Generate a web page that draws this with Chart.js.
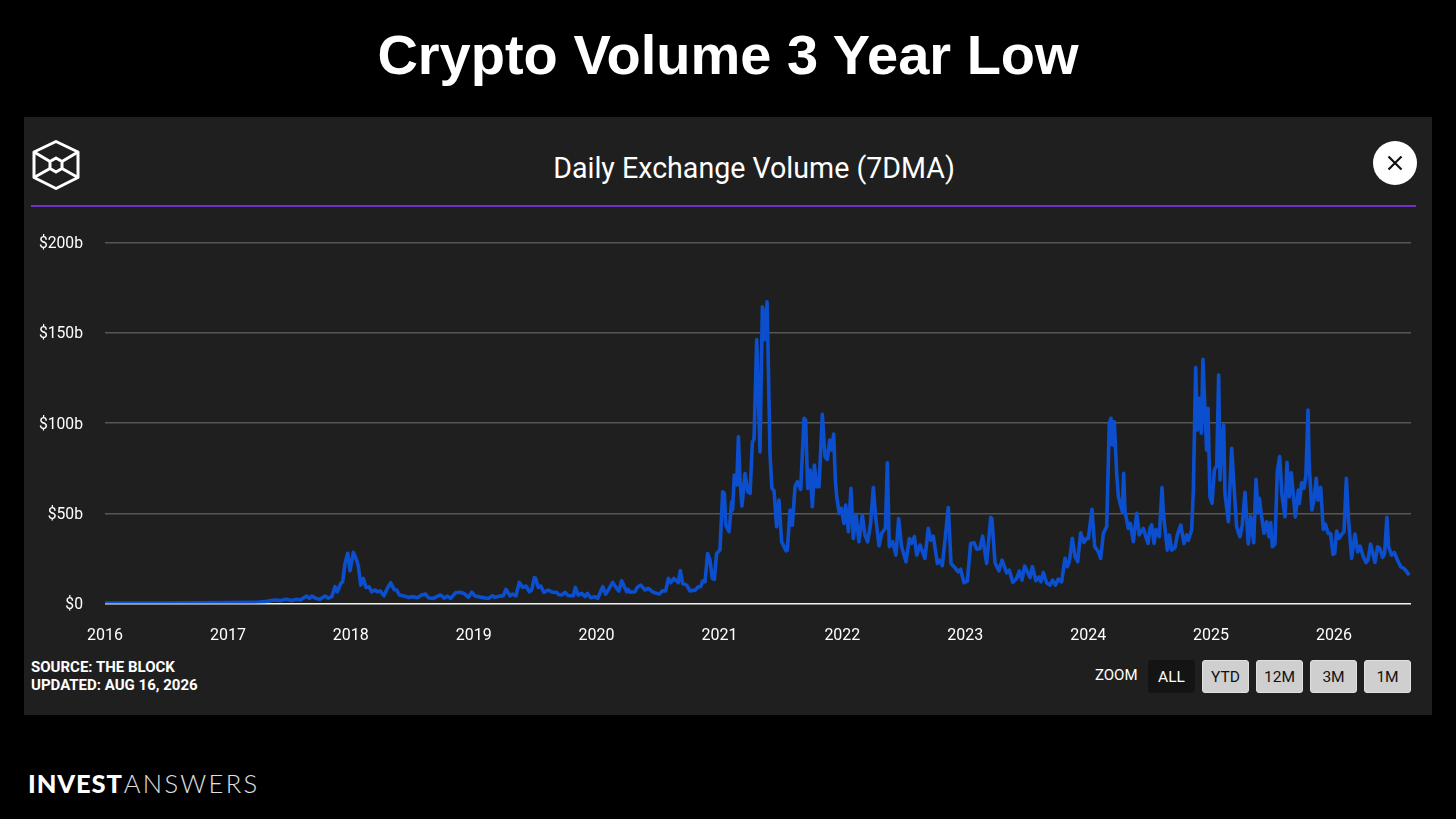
<!DOCTYPE html>
<html>
<head>
<meta charset="utf-8">
<title>Crypto Volume 3 Year Low</title>
<script src="https://cdn.jsdelivr.net/npm/chart.js@4"></script>
<style>
  html, body { margin: 0; padding: 0; background: #000; width: 1456px; height: 819px; overflow: hidden; }
  body { position: relative; font-family: Roboto, sans-serif; color: #fff; }
  .headline { position: absolute; left: 0; width: 1456px; top: 22px; text-align: center; font: bold 56px "Liberation Sans", sans-serif; line-height: 66px; }
  .panel { position: absolute; left: 24px; top: 117px; width: 1408px; height: 598px; background: #1f1f1f; }
  .logo { position: absolute; left: 31px; top: 139px; }
  .subtitle { position: absolute; left: 354px; width: 800px; top: 149.5px; text-align: center; font-size: 28.6px; line-height: 36px; }
  .rule { position: absolute; left: 31px; width: 1385px; top: 205px; height: 1.5px; background: #7430c4; }
  .close { position: absolute; left: 1373px; top: 141px; width: 44px; height: 44px; border-radius: 50%; background: #fff; }
  .chart-box { position: absolute; left: 24px; top: 210px; width: 1408px; height: 440px; }
  .source { position: absolute; left: 31px; top: 658px; font-size: 15px; font-weight: 700; line-height: 18px; }
  .zoom-label { position: absolute; left: 1095px; top: 667px; font-size: 15px; font-weight: 400; line-height: 17px; }
  .btn { position: absolute; top: 660px; width: 47px; height: 33px; box-sizing: border-box; border-radius: 3px; background: #cfcfcf; color: #111; border: 1px solid #e0e0e0; text-align: center; font-size: 15.5px; font-weight: 400; line-height: 32px; }
  .btn.on { background: #141414; color: #fff; border-color: #141414; }
  .brand { position: absolute; left: 28px; top: 767px; font: 300 25.5px/32px Lato, sans-serif; letter-spacing: 2.3px; color: #e0e0e0; }
  .brand b { font-weight: 900; color: #fff; letter-spacing: 0.9px; margin-right: 1px; }
</style>
</head>
<body>
<div class="headline">Crypto Volume 3 Year Low</div>
<div class="panel"></div>
<svg class="logo" width="50" height="52" viewBox="0 0 50 52" fill="none" stroke="#fff" stroke-width="3" stroke-linejoin="round">
  <path d="M25 2.5 L47 13 L47 38.5 L25 49.5 L3 38.5 L3 13 Z"/>
  <path d="M3 13 L19 22.5 M47 13 L31 22.5 M3 38.5 L19 29.5 M47 38.5 L31 29.5"/>
  <path d="M25 19 L31 22.5 L31 29.5 L25 33 L19 29.5 L19 22.5 Z"/>
</svg>
<div class="subtitle">Daily Exchange Volume (7DMA)</div>
<div class="rule"></div>
<div class="close">
  <svg width="44" height="44" viewBox="0 0 44 44" stroke="#111" stroke-width="2.2"><path d="M15.5 15.5 L28.5 28.5 M28.5 15.5 L15.5 28.5"/></svg>
</div>
<div class="chart-box"><canvas id="volumeChart"></canvas></div>
<div class="source">SOURCE: THE BLOCK<br>UPDATED: AUG 16, 2026</div>
<div class="zoom-label">ZOOM</div>
<div class="btn on" style="left:1148px">ALL</div>
<div class="btn" style="left:1202px">YTD</div>
<div class="btn" style="left:1256px">12M</div>
<div class="btn" style="left:1310px">3M</div>
<div class="btn" style="left:1364px">1M</div>
<div class="brand"><b>INVEST</b>ANSWERS</div>

<script>
// Values: decimal year and volume in $b, same order in both lists
const years = [
  2016, 2016.25, 2016.5, 2016.75, 2017, 2017.15, 2017.25, 2017.32, 2017.38, 2017.43,
  2017.47, 2017.52, 2017.56, 2017.587, 2017.641, 2017.663, 2017.682, 2017.717, 2017.75, 2017.79,
  2017.818, 2017.845, 2017.872, 2017.891, 2017.918, 2017.934, 2017.953, 2017.975, 2017.994, 2018.021,
  2018.048, 2018.062, 2018.081, 2018.102, 2018.124, 2018.148, 2018.17, 2018.197, 2018.216, 2018.238,
  2018.27, 2018.298, 2018.325, 2018.352, 2018.373, 2018.395, 2018.428, 2018.468, 2018.509, 2018.542,
  2018.577, 2018.609, 2018.631, 2018.672, 2018.699, 2018.731, 2018.759, 2018.786, 2018.813, 2018.853,
  2018.889, 2018.921, 2018.957, 2018.984, 2019.011, 2019.065, 2019.119, 2019.152, 2019.174, 2019.214,
  2019.241, 2019.263, 2019.296, 2019.315, 2019.344, 2019.371, 2019.399, 2019.426, 2019.453, 2019.472,
  2019.494, 2019.504, 2019.526, 2019.545, 2019.572, 2019.607, 2019.64, 2019.675, 2019.689, 2019.716,
  2019.743, 2019.77, 2019.811, 2019.827, 2019.851, 2019.879, 2019.906, 2019.925, 2019.952, 2019.987,
  2020.009, 2020.05, 2020.074, 2020.096, 2020.131, 2020.163, 2020.182, 2020.204, 2020.245, 2020.258,
  2020.272, 2020.313, 2020.331, 2020.359, 2020.394, 2020.421, 2020.462, 2020.51, 2020.535, 2020.562,
  2020.584, 2020.603, 2020.63, 2020.665, 2020.681, 2020.701, 2020.733, 2020.76, 2020.801, 2020.828,
  2020.847, 2020.863, 2020.882, 2020.904, 2020.923, 2020.942, 2020.958, 2020.977, 2021.004, 2021.026,
  2021.04, 2021.051, 2021.078, 2021.099, 2021.107, 2021.121, 2021.14, 2021.154, 2021.167, 2021.183,
  2021.208, 2021.23, 2021.249, 2021.268, 2021.281, 2021.303, 2021.316, 2021.33, 2021.349, 2021.362,
  2021.373, 2021.379, 2021.387, 2021.398, 2021.411, 2021.427, 2021.444, 2021.465, 2021.484, 2021.506,
  2021.541, 2021.552, 2021.574, 2021.593, 2021.615, 2021.634, 2021.661, 2021.688, 2021.701, 2021.718,
  2021.737, 2021.756, 2021.772, 2021.791, 2021.81, 2021.837, 2021.859, 2021.878, 2021.897, 2021.913,
  2021.929, 2021.943, 2021.954, 2021.975, 2021.992, 2022.013, 2022.027, 2022.049, 2022.07, 2022.089,
  2022.111, 2022.135, 2022.162, 2022.184, 2022.206, 2022.23, 2022.252, 2022.271, 2022.298, 2022.32,
  2022.339, 2022.35, 2022.366, 2022.382, 2022.409, 2022.436, 2022.458, 2022.482, 2022.518, 2022.545,
  2022.564, 2022.586, 2022.605, 2022.632, 2022.672, 2022.699, 2022.718, 2022.74, 2022.773, 2022.789,
  2022.813, 2022.835, 2022.862, 2022.884, 2022.916, 2022.943, 2022.962, 2022.99, 2023.017, 2023.044,
  2023.071, 2023.093, 2023.12, 2023.141, 2023.174, 2023.207, 2023.217, 2023.242, 2023.274, 2023.299,
  2023.337, 2023.358, 2023.386, 2023.418, 2023.44, 2023.461, 2023.483, 2023.527, 2023.546, 2023.575,
  2023.602, 2023.616, 2023.635, 2023.662, 2023.689, 2023.711, 2023.733, 2023.757, 2023.784, 2023.812,
  2023.831, 2023.847, 2023.871, 2023.893, 2023.915, 2023.939, 2023.966, 2023.988, 2024.002, 2024.031,
  2024.053, 2024.083, 2024.102, 2024.124, 2024.151, 2024.172, 2024.186, 2024.197, 2024.213, 2024.232,
  2024.246, 2024.278, 2024.289, 2024.3, 2024.327, 2024.343, 2024.368, 2024.395, 2024.416, 2024.449,
  2024.487, 2024.503, 2024.517, 2024.536, 2024.552, 2024.579, 2024.601, 2024.612, 2024.644, 2024.661,
  2024.68, 2024.707, 2024.726, 2024.753, 2024.78, 2024.802, 2024.815, 2024.842, 2024.856, 2024.875,
  2024.888, 2024.902, 2024.921, 2024.934, 2024.948, 2024.964, 2024.975, 2024.991, 2025.008, 2025.027,
  2025.046, 2025.062, 2025.073, 2025.086, 2025.103, 2025.113, 2025.141, 2025.168, 2025.187, 2025.208,
  2025.235, 2025.254, 2025.276, 2025.303, 2025.322, 2025.347, 2025.366, 2025.382, 2025.393, 2025.412,
  2025.431, 2025.452, 2025.471, 2025.485, 2025.499, 2025.52, 2025.539, 2025.558, 2025.577, 2025.602,
  2025.618, 2025.637, 2025.653, 2025.686, 2025.71, 2025.718, 2025.737, 2025.756, 2025.772, 2025.789,
  2025.799, 2025.821, 2025.837, 2025.856, 2025.87, 2025.892, 2025.913, 2025.93, 2025.954, 2025.973,
  2025.992, 2026.006, 2026.022, 2026.041, 2026.068, 2026.082, 2026.101, 2026.117, 2026.144, 2026.171,
  2026.193, 2026.212, 2026.239, 2026.261, 2026.277, 2026.298, 2026.334, 2026.355, 2026.374, 2026.396,
  2026.412, 2026.431, 2026.445, 2026.469, 2026.491, 2026.515, 2026.543, 2026.57, 2026.591, 2026.613
];
const volumes = [
  0.2, 0.3, 0.3, 0.4, 0.5, 0.6, 0.8, 1.2, 1.9, 1.6,
  2.4, 1.7, 2.3, 1.9, 4.1, 2.8, 4.1, 2.8, 2.3, 4.1,
  3, 3.8, 9.3, 6.5, 11.1, 12, 22.2, 27.8, 18.2, 28.3,
  24, 20.4, 10.2, 13.9, 8.9, 9.3, 6.5, 7.5, 6.5, 7,
  4.3, 8.4, 11.5, 7.8, 7.5, 4.7, 4.3, 3.4, 3.8, 3.2,
  4.7, 5.2, 3.2, 2.8, 3.8, 4.7, 3, 4.1, 2.8, 6,
  6.2, 5.6, 3.4, 6.3, 4.1, 3.4, 2.8, 4.3, 3.4, 4.1,
  4.3, 7.8, 4.3, 5.2, 4.3, 11.7, 8.9, 9.7, 6.5, 7.5,
  14.3, 13.9, 8.9, 9.7, 6.2, 7.5, 6.2, 6.2, 5, 4.7,
  6.2, 4.3, 4.3, 8.9, 4.7, 5.6, 3.8, 5.6, 3.2, 3.8,
  2.8, 9.3, 5.2, 7.5, 11.7, 8.4, 6.9, 12.6, 6.5, 7.8,
  6.2, 6.5, 8.9, 10.2, 7.5, 8.4, 6.2, 5.2, 7, 7,
  13.9, 11.5, 13.9, 11.5, 18.2, 11, 10.2, 7, 7.4, 9.3,
  9.3, 12.4, 12, 27.7, 24, 13.9, 13.3, 27.7, 29.6, 61.9,
  61, 43.4, 39.8, 56.4, 51.8, 71.1, 65.6, 92.4, 68.4, 54,
  72, 61.9, 61, 89.6, 90.9, 146.3, 114.6, 84, 164.4, 146,
  162.6, 146.9, 167.2, 131, 83, 63.8, 62.5, 42.5, 57.3, 34.2,
  29.2, 29.6, 51.8, 43.4, 64.7, 67.5, 63.2, 102.6, 101.6, 63.8,
  73.9, 53.6, 76.7, 64.7, 64.7, 104.8, 81.3, 79.8, 90.5, 85,
  93.9, 68.4, 59.2, 49.9, 52.7, 44.4, 54.5, 39.8, 63.8, 36,
  49.4, 34.2, 49, 37.9, 34.2, 44.4, 64.3, 48, 32, 38.8,
  40.7, 41.6, 78, 31.4, 34.2, 26.8, 47.1, 31.4, 23.1, 36,
  33.3, 37, 26.8, 32.4, 25, 41.6, 35.1, 37.3, 22.2, 24,
  20.9, 35.1, 53.2, 22.2, 19.8, 17.6, 19, 11.5, 12.4, 33.3,
  33.7, 30.1, 30.5, 37.3, 22.2, 47.7, 47.1, 22.6, 18.1, 24,
  17, 18.5, 11.7, 13.9, 18, 13, 20.7, 14.4, 20.4, 12.6,
  14.8, 12, 17.2, 11.5, 10.2, 13, 10.2, 13.5, 12, 25,
  20.4, 23.2, 36.1, 26, 23.2, 39.2, 33.9, 36.1, 36.1, 52.2,
  31.5, 28.7, 25, 38.9, 42.6, 99.8, 102.6, 87.8, 100.7, 72.1,
  59.2, 50.9, 72.1, 50.9, 41.6, 44.4, 34.3, 50, 38, 41.6,
  33.3, 41.6, 43.5, 33.3, 41, 37, 64.2, 50, 29.6, 38,
  29.6, 31, 38, 43.5, 33.3, 38, 35, 40.7, 62.9, 130.7,
  96.1, 113.7, 94.3, 135.3, 110.9, 85, 108.1, 59.2, 55.5, 74,
  76.2, 126.6, 68.4, 90.6, 98.9, 61, 45.3, 86, 64.7, 42.6,
  37, 43.5, 61.6, 33, 48.1, 33.7, 68.8, 50.9, 58.3, 48.1,
  38.9, 45.3, 37, 44.8, 31.5, 33, 73, 81.4, 60.1, 48.1,
  78.2, 59.2, 72.4, 48, 62.8, 55.4, 66.9, 63.8, 71.1, 107.2,
  75.8, 51.8, 57.3, 69.3, 57.3, 64.3, 41, 44, 38.8, 38.8,
  27.2, 27.7, 40.1, 36, 38.8, 39.7, 69.3, 48, 25, 38.5,
  28.7, 31.8, 25.9, 22.7, 24, 32.9, 22.7, 31.4, 30.5, 25.5,
  27.7, 47.7, 31.4, 26.8, 28.3, 24.4, 20.4, 19.4, 17.6, 15.7
];
const yearTickStep = 1;
const volumeTicks = [0, 50, 100, 150, 200];

const ctx = document.getElementById('volumeChart').getContext('2d');

new Chart(ctx, {
  type: 'line',
  data: {
    datasets: [{
      label: 'Daily Exchange Volume (7DMA)',
      data: years.map((y, i) => ({ x: y, y: volumes[i] })),
      borderColor: '#0c4fce',
      borderWidth: 3.6,
      pointRadius: 0,
      tension: 0,
      borderJoinStyle: 'round',
      fill: false
    }]
  },
  options: {
    responsive: true,
    maintainAspectRatio: false,
    animation: false,
    layout: { padding: { top: 32.5, right: 21 } },
    plugins: { legend: { display: false }, tooltip: { enabled: false } },
    scales: {
      x: {
        type: 'linear',
        min: 2016,
        max: 2026.627,
        afterFit: scale => { scale.height = 46.5; },
        border: { display: false },
        grid: { display: false },
        ticks: {
          stepSize: yearTickStep,
          includeBounds: false,
          autoSkip: false,
          maxRotation: 0,
          padding: 15,
          color: '#fff',
          font: { family: 'Roboto', size: 16 },
          callback: v => String(v)
        }
      },
      y: {
        min: 0,
        max: 200,
        afterFit: scale => { scale.width = 81; },
        afterBuildTicks: scale => { scale.ticks = volumeTicks.map(v => ({ value: v })); },
        border: { display: false },
        grid: {
          drawTicks: false,
          lineWidth: 1.4,
          color: c => (c.tick.value === 0 ? '#f2f2f2' : '#565656')
        },
        ticks: {
          padding: 22,
          color: '#fff',
          // the blank first line nudges the label down a little, as in the original
          font: { family: 'Roboto', size: 15.7, lineHeight: '3.5px' },
          callback: v => ['', '$' + v + (v === 0 ? '' : 'b')]
        }
      }
    }
  }
});
</script>
</body>
</html>
